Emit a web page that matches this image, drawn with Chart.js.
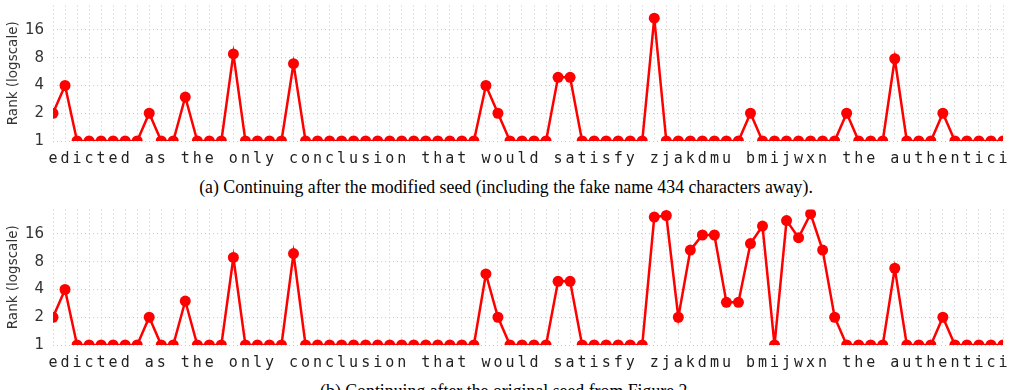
<!DOCTYPE html>
<html>
<head>
<meta charset="utf-8">
<script src="https://cdn.jsdelivr.net/npm/chart.js@4.4.0/dist/chart.umd.min.js"></script>
<style>
    body { margin: 0; width: 1012px; height: 390px; overflow: hidden; background: #fff; }
    .panel { position: absolute; left: 0; width: 1012px; }
    .caption {
        position: absolute; left: 0; width: 1012px; text-align: center;
        font: 17.8px 'Liberation Serif', serif; line-height: 20px; color: #000;
    }
</style>
</head>
<body>
<div class="panel" style="top:0"><canvas id="chartA" width="1012" height="170"></canvas></div>
<div class="caption" style="top:177px">(a) Continuing after the modified seed (including the fake name 434 characters away).</div>
<div class="panel" style="top:204px"><canvas id="chartB" width="1012" height="170"></canvas></div>
<div class="caption" style="top:381px">(b) Continuing after the original seed from Figure 2.</div>

<script>
// Text under the x axis, one character per point
const chars = 'edicted as the only conclusion that would satisfy zjakdmu bmijwxn the authentici'.split('');

// (a) modified seed
const rankA = [
    2, 4, 1, 1, 1, 1, 1, 1, 2, 1,
    1, 3, 1, 1, 1, 8.8, 1, 1, 1, 1,
    6.9, 1, 1, 1, 1, 1, 1, 1, 1, 1,
    1, 1, 1, 1, 1, 1, 4, 2, 1, 1,
    1, 1, 4.9, 4.9, 1, 1, 1, 1, 1, 1,
    21.5, 1, 1, 1, 1, 1, 1, 1, 2, 1,
    1, 1, 1, 1, 1, 1, 2, 1, 1, 1,
    7.8, 1, 1, 1, 2, 1, 1, 1, 1, 1
];

// (b) original seed
const rankB = [
    2, 4, 1, 1, 1, 1, 1, 1, 2, 1,
    1, 3, 1, 1, 1, 8.9, 1, 1, 1, 1,
    9.8, 1, 1, 1, 1, 1, 1, 1, 1, 1,
    1, 1, 1, 1, 1, 1, 5.9, 2, 1, 1,
    1, 1, 4.9, 4.9, 1, 1, 1, 1, 1, 1,
    24.4, 25.4, 2, 10.7, 15.6, 15.6, 2.9, 2.9, 12.6, 19.5,
    1, 22.4, 14.6, 26.5, 10.7, 2, 1, 1, 1, 1,
    6.8, 1, 1, 1, 2, 1, 1, 1, 1, 1
];

// Grid every half doubling, labels only on powers of two
const yGrid = [1, 1.4142, 2, 2.8284, 4, 5.6569, 8, 11.314, 16, 22.627];
const yLabels = [1, 2, 4, 8, 16];

// no extra label padding, so the plot area is just where we put it
const noPad = (s) => {
    s.paddingTop = 0;
    s.paddingBottom = 0;
    s.paddingLeft = 0;
    s.paddingRight = 0;
};

function makeChart(id, ranks) {
    const ctx = document.getElementById(id).getContext('2d');
    return new Chart(ctx, {
        type: 'line',
        data: {
            labels: chars,
            datasets: [{
                data: ranks,
                borderColor: '#f00',
                backgroundColor: '#f00',
                borderWidth: 2.5,
                pointRadius: 5.5,
                pointHoverRadius: 5.5,
                pointBorderWidth: 0,
                tension: 0,
                clip: 0
            }]
        },
        options: {
            responsive: false,
            animation: false,
            events: [],
            layout: { padding: { top: 5, right: 9, left: 0, bottom: 0 } },
            plugins: { legend: { display: false }, tooltip: { enabled: false } },
            scales: {
                x: {
                    type: 'category',
                    offset: false,
                    border: { display: false, dash: [1, 3] },
                    grid: { color: '#c8c8c8', drawTicks: false },
                    ticks: {
                        autoSkip: false,
                        maxRotation: 0,
                        padding: 9,
                        color: '#222',
                        font: { family: 'DejaVu Sans Mono', size: 15 }
                    },
                    afterFit: (s) => { s.height = 29; noPad(s); }
                },
                y: {
                    type: 'logarithmic',
                    min: 1,
                    max: 29.5,
                    border: { display: false, dash: [1, 3] },
                    grid: { color: '#c8c8c8', drawTicks: false },
                    afterBuildTicks: (s) => { s.ticks = yGrid.map(v => ({ value: v })); },
                    ticks: {
                        padding: 9,
                        color: '#333',
                        font: { family: 'DejaVu Sans', size: 15 },
                        callback: (v) => yLabels.includes(v) ? String(v) : ''
                    },
                    title: {
                        display: true,
                        text: 'Rank (logscale)',
                        color: '#333',
                        padding: { top: 5, bottom: 0 },
                        font: { family: 'DejaVu Sans', size: 13.5 }
                    },
                    afterFit: (s) => { s.width = 53; noPad(s); }
                }
            }
        }
    });
}

makeChart('chartA', rankA);
makeChart('chartB', rankB);
</script>
</body>
</html>
